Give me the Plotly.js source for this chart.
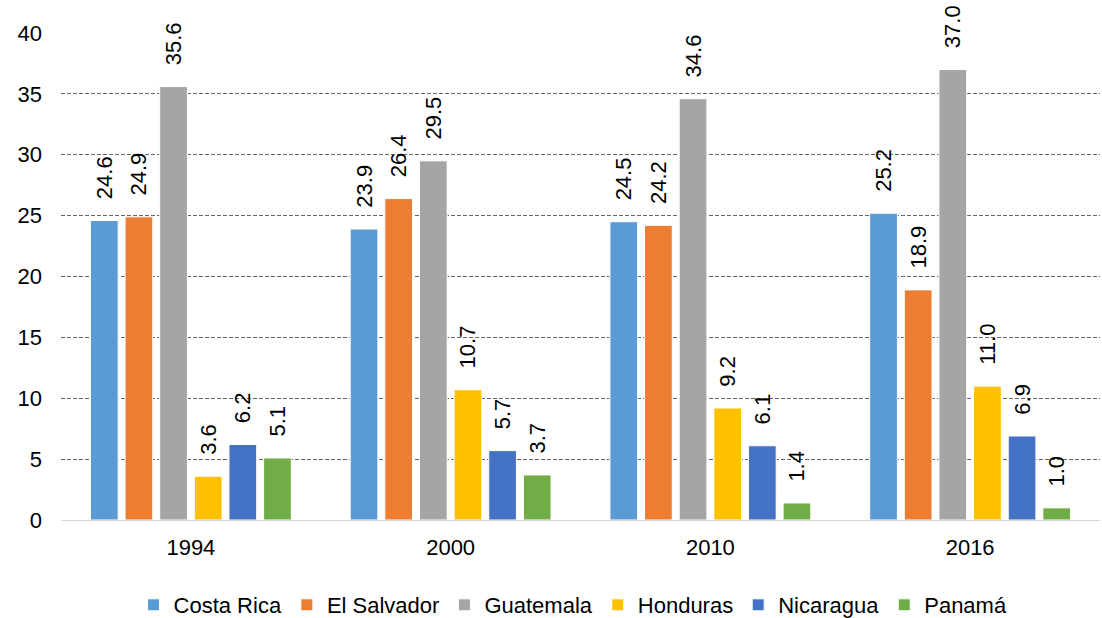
<!DOCTYPE html>
<html><head><meta charset="utf-8">
<script src="https://cdn.plot.ly/plotly-3.0.1.min.js"></script>
<style>body{margin:0;background:#fff}#c{width:1102px;height:618px}</style>
</head><body><div id="c"></div>
<script>
const years = ['1994', '2000', '2010', '2016'];
const countries = ['Costa Rica', 'El Salvador', 'Guatemala', 'Honduras', 'Nicaragua', 'Panamá'];
const costaRica = [24.6, 23.9, 24.5, 25.2];
const elSalvador = [24.9, 26.4, 24.2, 18.9];
const guatemala = [35.6, 29.5, 34.6, 37.0];
const honduras = [3.6, 10.7, 9.2, 11.0];
const nicaragua = [6.2, 5.7, 6.1, 6.9];
const panama = [5.1, 3.7, 1.4, 1.0];
const colors = ['#5B9BD5', '#ED7D31', '#A5A5A5', '#FFC000', '#4472C4', '#70AD47'];
const series = [costaRica, elSalvador, guatemala, honduras, nicaragua, panama];

const traces = series.map((vals, i) => ({
  type: 'bar', name: countries[i], x: years, y: vals,
  marker: {color: colors[i], line: {color: '#ffffff', width: 1}},
  texttemplate: '\u00a0\u00a0\u00a0%{y:.1f}', textposition: 'outside', textangle: -90,
  cliponaxis: false, constraintext: 'none',
  textfont: {family: 'Liberation Sans, Arial, sans-serif', size: 22, color: '#000'},
  hoverinfo: 'skip'
}));

const layout = {
  width: 1102, height: 618,
  margin: {l: 61, r: 2, t: 33, b: 98},
  barmode: 'group', bargap: 0.2, bargroupgap: 0.2,
  paper_bgcolor: '#fff', plot_bgcolor: '#fff',
  font: {family: 'Liberation Sans, Arial, sans-serif', size: 22, color: '#000'},
  xaxis: {type: 'category', showgrid: false, showline: true, linecolor: '#d9d9d9', linewidth: 1,
    ticks: '', tickfont: {size: 22}, ticklabelstandoff: 8},
  yaxis: {range: [0, 40], dtick: 5, showgrid: true, gridcolor: '#666666', griddash: '4px,2px', gridwidth: 1,
    zeroline: false, showline: false, ticks: '', tickfont: {size: 22}, ticklabelstandoff: 18},
  legend: {orientation: 'h', x: 0.52, xanchor: 'center', xref: 'container', yref: 'container', y: 0.021, yanchor: 'middle',
    font: {size: 22}, itemwidth: 30, traceorder: 'normal'},
  showlegend: true
};
Plotly.newPlot('c', traces, layout, {displayModeBar: false, staticPlot: true});
</script></body></html>
